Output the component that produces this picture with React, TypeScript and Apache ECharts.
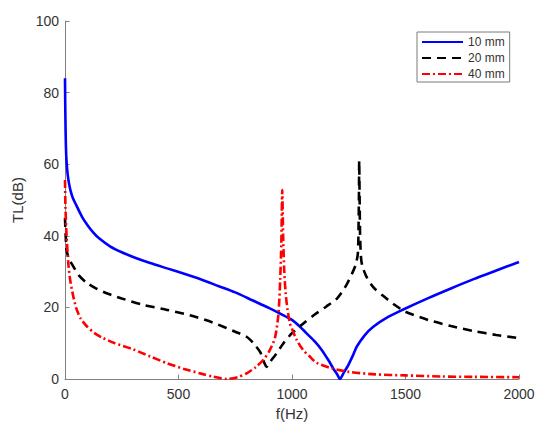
import React, { useEffect, useRef } from "react";
import * as echarts from "echarts";

const seriesNames = ["10 mm", "20 mm", "40 mm"];

const xTicks = [0, 500, 1000, 1500, 2000];
const yTicks = [0, 20, 40, 60, 80, 100];

const f10 = [0, 1, 2, 4, 7, 12, 18, 25, 35, 50, 75, 100, 125, 150, 200, 250, 300, 375, 450, 525, 600, 675, 750, 825, 900, 950, 1000, 1035, 1070, 1100, 1130, 1160, 1185, 1200, 1211, 1230, 1248, 1270, 1285, 1320, 1358, 1420, 1490, 1600, 1700, 1800, 1900, 2000];
const tl10 = [84, 77, 72, 65, 60.5, 57, 54.5, 52.5, 50.5, 48.5, 45.3, 42.9, 40.9, 39.3, 37, 35.4, 34.1, 32.4, 30.9, 29.4, 27.8, 26, 24.2, 22, 19.8, 18.2, 16.5, 14.6, 12.4, 10.5, 8.2, 5.3, 2.6, 1.2, 0, 2, 3.9, 6.8, 9, 12.2, 14.6, 17.2, 19.4, 22.6, 25.3, 27.9, 30.3, 32.7];

const f20 = [0, 3, 7, 15, 22, 37, 60, 95, 140, 190, 250, 345, 450, 550, 650, 750, 800, 830, 860, 878, 888, 900, 930, 960, 1000, 1050, 1100, 1150, 1200, 1240, 1265, 1280, 1290, 1293, 1295, 1296, 1298, 1300, 1304, 1310, 1330, 1360, 1400, 1450, 1500, 1600, 1700, 1800, 1900, 2000];
const tl20 = [45, 40, 36, 34, 33, 31.4, 29, 26.9, 25.2, 23.8, 22.5, 20.7, 19.3, 17.8, 15.8, 13.2, 11.8, 10, 7.5, 4.5, 3.4, 4.5, 7, 9.8, 12.8, 15.5, 18, 20.2, 22.6, 26.3, 29.5, 31.8, 35, 42, 52, 61, 50, 40, 34, 31.5, 28.3, 25.5, 23.3, 20.8, 18.8, 16.5, 14.8, 13.4, 12.3, 11.4];

const f40 = [0, 2, 7, 15, 22, 35, 51, 70, 95, 130, 169, 220, 300, 375, 450, 525, 600, 650, 712, 760, 800, 840, 873, 900, 925, 940, 948, 953, 957, 961, 966, 972, 980, 991, 1000, 1020, 1050, 1075, 1109, 1175, 1250, 1366, 1500, 1659, 1800, 2000];
const tl40 = [55.6, 48, 40, 32, 28, 23.5, 19.5, 16.8, 14.8, 12.8, 11.4, 10, 8.3, 6.3, 4.4, 2.8, 1.5, 0.7, 0, 0.5, 1.6, 3.3, 5.3, 7.8, 11.5, 18, 27.7, 38, 52.8, 40, 30, 24, 19.5, 15.5, 14, 11, 8, 6.5, 4.5, 3, 2, 1.3, 1, 0.7, 0.6, 0.5];

const pairs = (f: number[], v: number[]) => f.map((x, i) => [x, v[i]]);

const FONT = "'Liberation Sans', Arial, sans-serif";
const AXIS_COLOR = "#808080";
const TEXT_COLOR = "#333333";

export default function App() {
  const ref = useRef<HTMLDivElement>(null);

  useEffect(() => {
    if (!ref.current) return;
    const chart = echarts.init(ref.current, undefined, { renderer: "svg" });
    const axisCommon = {
      axisLine: { show: true, lineStyle: { color: AXIS_COLOR, width: 1 } },
      axisTick: { show: true, inside: true, length: 4.5, lineStyle: { color: AXIS_COLOR } },
      splitLine: { show: false },
      nameTextStyle: { color: TEXT_COLOR, fontFamily: FONT, fontSize: 15 },
    };
    const lineSeries = (name: string, f: number[], v: number[], color: string, width: number, type: any) => ({
      name,
      type: "line",
      data: pairs(f, v),
      showSymbol: false,
      symbol: "none",
      smooth: 0.25,
      lineStyle: { color, width, type },
      itemStyle: { color },
    });
    chart.setOption({
      animation: false,
      backgroundColor: "#ffffff",
      textStyle: { fontFamily: FONT },
      grid: { left: 65, right: 31, top: 21, bottom: 54, containLabel: false },
      legend: {
        data: seriesNames,
        orient: "vertical",
        left: 417,
        top: 32,
        itemWidth: 41,
        itemHeight: 14,
        itemGap: 4,
        padding: [4, 5, 2, 4],
        backgroundColor: "#ffffff",
        borderColor: "#7a7a7a",
        borderWidth: 1,
        borderRadius: 0,
        itemStyle: { opacity: 0 },
        textStyle: { color: TEXT_COLOR, fontFamily: FONT, fontSize: 12 },
      },
      xAxis: {
        type: "value",
        min: xTicks[0],
        max: xTicks[xTicks.length - 1],
        interval: xTicks[1] - xTicks[0],
        name: "f(Hz)",
        nameLocation: "middle",
        nameGap: 27,
        axisLabel: { color: TEXT_COLOR, fontFamily: FONT, fontSize: 14, margin: 8, formatter: (v: number) => String(v) },
        ...axisCommon,
      },
      yAxis: {
        type: "value",
        min: yTicks[0],
        max: yTicks[yTicks.length - 1],
        interval: yTicks[1] - yTicks[0],
        name: "TL(dB)",
        nameLocation: "middle",
        nameGap: 37,
        axisLabel: { color: TEXT_COLOR, fontFamily: FONT, fontSize: 14, margin: 6, formatter: (v: number) => String(v) },
        ...axisCommon,
      },
      series: [
        lineSeries(seriesNames[0], f10, tl10, "#0000ff", 2.6, "solid"),
        lineSeries(seriesNames[1], f20, tl20, "#000000", 2.6, [9, 6]),
        lineSeries(seriesNames[2], f40, tl40, "#ff0000", 2.6, [8, 3, 2, 3]),
      ],
    });
    return () => chart.dispose();
  }, []);

  return (
    <div
      ref={ref}
      style={{ position: "fixed", left: 0, top: 0, width: 550, height: 433, background: "#fff" }}
    />
  );
}
